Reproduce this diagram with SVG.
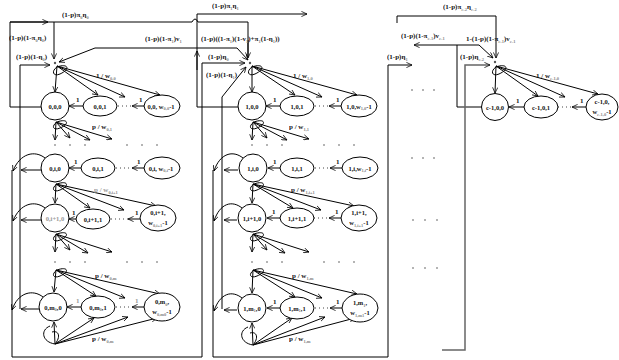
<svg xmlns="http://www.w3.org/2000/svg" width="619" height="360" viewBox="0 0 619 360">
<defs>
<marker id="a" viewBox="0 0 8 8" refX="7.5" refY="4" markerWidth="6" markerHeight="6" orient="auto" markerUnits="userSpaceOnUse"><path d="M0,0.5 L7.5,4 L0,7.5" fill="none" stroke="#000" stroke-width="1"/></marker>
<style>
text{opacity:0.99}
.t{font-family:"Liberation Serif",serif;font-size:7px;font-weight:bold;fill:#111}
.n{font-family:"Liberation Serif",serif;font-size:6.5px;font-weight:bold;fill:#111;text-anchor:middle}
.g{fill:#999}
.s{font-size:4.5px;fill:#888}
.c{fill:#fff;stroke:#000;stroke-width:1}
.l{fill:none;stroke:#000;stroke-width:1}
.m{fill:none;stroke:#000;stroke-width:1;marker-end:url(#a)}
.d{fill:none;stroke:#444;stroke-width:1;stroke-dasharray:1 3}
.dot{fill:#555}
</style>
</defs>
<rect width="619" height="360" fill="#fff"/>

<g id="connectors">
<path class="l" d="M41,107 L10,107 L10,22 L192,22 Q195,16 198,22 L248,22 L248,57"/>
<path class="m" d="M248,40 L248,58"/>
<path class="m" d="M10,22 L48,22"/>
<path class="m" d="M54,22 L54,59"/>
<path class="m" d="M20,309 L20,65 L50,65"/>
<path class="m" d="M12,170 L12,357 L202,357 L202,63 L245,63"/>
<path class="m" d="M238,107 L197,107 L197,14 L307,14"/>
<path class="m" d="M197,70 L197,51"/>
<path class="m" d="M197,48 L95,48 L59,62"/>
<path class="m" d="M197,48 L237,48 L248,60"/>
<path class="m" d="M222,309 L222,97 L246,67"/>
<path class="m" d="M213,170 L213,357 L388,357 L388,65 L412,65"/>
<path class="m" d="M397,23 L397,16 L496,16 L496,58"/>
<path class="m" d="M482,107 L457,107 L457,45 L414,45"/>
<path class="m" d="M457,45 L479,45 L493,58"/>
<path d="M442,350 L465,350 L465,65 L490,65" fill="none" stroke="#666" stroke-width="1.5" marker-end="url(#a)"/>

<g id="fans0">
<path class="m" d="M57,66 L55,92"/><path class="m" d="M57,66 L98,95"/><path class="m" d="M57,66 L125,97"/><path class="m" d="M57,66 L160,95"/>
<path class="l" d="M57,67 C68,63 71,69 60,74 C53,77 51,71 57,67"/>
<path class="m" d="M56,122 L55,140"/><path class="m" d="M56,122 L70,138"/><path class="m" d="M56,122 L90,140"/><path class="m" d="M56,122 L112,139"/>
<path class="l" d="M57,122 C68,118 70,124 60,128 C53,131 51,126 57,122"/>
<path class="m" d="M56,184 L55,203"/><path class="m" d="M56,184 L90,208"/><path class="m" d="M56,184 L124,210"/><path class="m" d="M56,184 L156,206"/>
<path class="l" d="M57,184 C68,180 70,186 60,190 C53,193 51,188 57,184"/>
<path class="m" d="M56,234 L55,252"/><path class="m" d="M56,234 L70,250"/><path class="m" d="M56,234 L88,253"/><path class="m" d="M56,234 L112,252"/>
<path class="l" d="M57,234 C68,230 70,236 60,240 C53,243 51,238 57,234"/>
<path class="m" d="M56,270 L54,292"/><path class="m" d="M56,270 L96,296"/><path class="m" d="M56,270 L125,298"/><path class="m" d="M56,270 L160,294"/>
<path class="l" d="M57,270 C68,266 70,272 60,276 C53,279 51,274 57,270"/>
<path class="m" d="M55,344 L54,322"/><path class="m" d="M55,344 L94,318"/><path class="m" d="M55,344 L128,317"/><path class="m" d="M55,344 L157,318"/>
<path class="l" d="M55,344 C42,342 40,330 50,326 M55,344 C61,337 59,330 52,332"/>
<path class="m" d="M83,106 L69,106"/><path class="d" d="M118,106 L132,106"/><path class="m" d="M144,106 L132,106"/>
<path class="m" d="M81,168 L69,168"/><path class="d" d="M116,168 L132,168"/><path class="m" d="M144,168 L132,168"/>
<path class="m" d="M76,219 L69,219"/><path class="d" d="M111,219 L128,219"/><path class="m" d="M140,219 L128,219"/>
<path class="m" d="M81,307 L67,307"/><path class="d" d="M116,307 L132,307"/><path class="m" d="M144,307 L132,307"/>
<path class="m" d="M41,170 L21,170"/><path class="m" d="M45,158 C35,150 20,153 13,171"/>
<path class="m" d="M41,220 L21,220"/><path class="m" d="M45,208 C35,200 20,203 13,221"/>
<path class="m" d="M39,309 L21,309"/><path class="m" d="M43,297 C33,289 18,292 12,310"/>
</g>

<g id="fans1">
<path class="m" d="M252,66 L252,92"/><path class="m" d="M252,66 L295,95"/><path class="m" d="M252,66 L322,97"/><path class="m" d="M252,66 L357,95"/>
<path class="l" d="M252,67 C263,63 266,69 255,74 C248,77 246,71 252,67"/>
<path class="m" d="M253,122 L252,140"/><path class="m" d="M253,122 L267,138"/><path class="m" d="M253,122 L287,140"/><path class="m" d="M253,122 L309,139"/>
<path class="l" d="M254,122 C265,118 267,124 257,128 C250,131 248,126 254,122"/>
<path class="m" d="M253,184 L252,203"/><path class="m" d="M253,184 L293,208"/><path class="m" d="M253,184 L321,210"/><path class="m" d="M253,184 L354,206"/>
<path class="l" d="M254,184 C265,180 267,186 257,190 C250,193 248,188 254,184"/>
<path class="m" d="M253,234 L252,252"/><path class="m" d="M253,234 L267,250"/><path class="m" d="M253,234 L285,253"/><path class="m" d="M253,234 L309,252"/>
<path class="l" d="M254,234 C265,230 267,236 257,240 C250,243 248,238 254,234"/>
<path class="m" d="M253,270 L252,293"/><path class="m" d="M253,270 L295,297"/><path class="m" d="M253,270 L322,298"/><path class="m" d="M253,270 L357,294"/>
<path class="l" d="M254,270 C265,266 267,272 257,276 C250,279 248,274 254,270"/>
<path class="m" d="M253,345 L252,323"/><path class="m" d="M253,345 L292,318"/><path class="m" d="M253,345 L325,317"/><path class="m" d="M253,345 L355,318"/>
<path class="l" d="M253,345 C240,343 238,331 248,327 M253,345 C259,338 257,331 250,333"/>
<path class="m" d="M280,106 L266,106"/><path class="d" d="M315,106 L329,106"/><path class="m" d="M341,106 L329,106"/>
<path class="m" d="M280,168 L268,168"/><path class="d" d="M315,168 L330,168"/><path class="m" d="M342,168 L330,168"/>
<path class="m" d="M280,218 L267,218"/><path class="d" d="M314,218 L329,218"/><path class="m" d="M341,218 L329,218"/>
<path class="m" d="M280,308 L267,308"/><path class="d" d="M315,308 L330,308"/><path class="m" d="M342,308 L330,308"/>
<path class="m" d="M238,170 L224,170"/><path class="m" d="M243,158 C233,150 220,153 214,171"/>
<path class="m" d="M237,220 L224,220"/><path class="m" d="M242,208 C232,200 220,203 214,221"/>
<path class="m" d="M237,310 L224,310"/><path class="m" d="M242,298 C232,290 220,293 214,311"/>
</g>

<g id="fansc">
<path class="m" d="M496,66 L495,93"/><path class="m" d="M496,66 L538,96"/><path class="m" d="M496,66 L565,97"/><path class="m" d="M496,66 L598,94"/>
<path class="l" d="M496,67 C507,63 510,69 499,74 C492,77 490,71 496,67"/>
<path class="m" d="M524,107 L509,107"/><path class="d" d="M558,107 L572,107"/><path class="m" d="M586,107 L572,107"/>
</g>
</g>

<circle class="dot" cx="55" cy="63" r="1.2"/>
<circle class="dot" cx="250" cy="63" r="1.2"/>
<circle class="dot" cx="495" cy="62" r="1.2"/>

<g class="dot">
<circle cx="55" cy="145" r="0.8"/><circle cx="70" cy="145" r="0.8"/><circle cx="85" cy="145" r="0.8"/><circle cx="127" cy="145" r="0.8"/><circle cx="142" cy="145" r="0.8"/><circle cx="157" cy="145" r="0.8"/>
<circle cx="55" cy="262" r="0.8"/><circle cx="70" cy="262" r="0.8"/><circle cx="85" cy="262" r="0.8"/><circle cx="127" cy="262" r="0.8"/><circle cx="142" cy="262" r="0.8"/><circle cx="157" cy="262" r="0.8"/>
<circle cx="252" cy="145" r="0.8"/><circle cx="267" cy="145" r="0.8"/><circle cx="282" cy="145" r="0.8"/><circle cx="324" cy="145" r="0.8"/><circle cx="339" cy="145" r="0.8"/><circle cx="354" cy="145" r="0.8"/>
<circle cx="252" cy="262" r="0.8"/><circle cx="267" cy="262" r="0.8"/><circle cx="282" cy="262" r="0.8"/><circle cx="324" cy="262" r="0.8"/><circle cx="339" cy="262" r="0.8"/><circle cx="354" cy="262" r="0.8"/>
<circle cx="412" cy="90" r="0.8"/><circle cx="423" cy="90" r="0.8"/><circle cx="434" cy="90" r="0.8"/>
<circle cx="412" cy="158" r="0.8"/><circle cx="423" cy="158" r="0.8"/><circle cx="434" cy="158" r="0.8"/>
<circle cx="413" cy="220" r="0.8"/><circle cx="425" cy="220" r="0.8"/><circle cx="437" cy="220" r="0.8"/>
<circle cx="413" cy="268" r="0.8"/><circle cx="425" cy="268" r="0.8"/><circle cx="437" cy="268" r="0.8"/>
</g>

<g id="labels">
<text class="t" x="62" y="17">(1-p)π<tspan class="s" dy="1.5">0</tspan><tspan dy="-1.5">η</tspan><tspan class="s" dy="1.5">0</tspan></text>
<text class="t" x="9" y="40">(1-p)(1-π<tspan class="s" dy="1.5">0</tspan><tspan dy="-1.5">η</tspan><tspan class="s" dy="1.5">0</tspan><tspan dy="-1.5">)</tspan></text>
<text class="t" x="16" y="59">(1-p)(1-η<tspan class="s" dy="1.5">0</tspan><tspan dy="-1.5">)</tspan></text>
<text class="t" x="145" y="41">(1-p)(1-π<tspan class="s" dy="1.5">1</tspan><tspan dy="-1.5">)v</tspan><tspan class="s" dy="1.5">1</tspan></text>
<text class="t" x="212" y="8">(1-p)π<tspan class="s" dy="1.5">1</tspan><tspan dy="-1.5">η</tspan><tspan class="s" dy="1.5">1</tspan></text>
<text class="t" x="201" y="41">(1-p)((1-π<tspan class="s" dy="1.5">1</tspan><tspan dy="-1.5">)(1-v</tspan><tspan class="s" dy="1.5">1</tspan><tspan dy="-1.5">)+π</tspan><tspan class="s" dy="1.5">1</tspan><tspan dy="-1.5">(1-η</tspan><tspan class="s" dy="1.5">1</tspan><tspan dy="-1.5">))</tspan></text>
<text class="t" x="208" y="59">(1-p)η<tspan class="s" dy="1.5">0</tspan></text>
<text class="t" x="206" y="77">(1-p)(1-η<tspan class="s" dy="1.5">1</tspan><tspan dy="-1.5">)</tspan></text>
<text class="t" x="443" y="9">(1-p)π<tspan class="s" dy="1.5">c-2</tspan><tspan dy="-1.5">η</tspan><tspan class="s" dy="1.5">c-2</tspan></text>
<text class="t" x="401" y="38">(1-p)(1-π<tspan class="s" dy="1.5">c-1</tspan><tspan dy="-1.5">)v</tspan><tspan class="s" dy="1.5">c-1</tspan></text>
<text class="t" x="466" y="41">1-(1-p)(1-π<tspan class="s" dy="1.5">c-1</tspan><tspan dy="-1.5">)v</tspan><tspan class="s" dy="1.5">c-1</tspan></text>
<text class="t" x="387" y="59">(1-p)η<tspan class="s" dy="1.5">1</tspan></text>
<text class="t" x="460" y="59">(1-p)η<tspan class="s" dy="1.5">c-2</tspan></text>

<text class="t" x="96" y="78">1 / w<tspan class="s" dy="1.5">0,0</tspan></text>
<text class="t" x="92" y="129">p / w<tspan class="s" dy="1.5">0,1</tspan></text>
<text class="t g" x="94" y="192">p / w<tspan class="s" dy="1.5">0,i+1</tspan></text>
<text class="t" x="95" y="278">p / w<tspan class="s" dy="1.5">0,m</tspan></text>
<text class="t" x="92" y="341">p / w<tspan class="s" dy="1.5">0,m</tspan></text>
<text class="t" x="293" y="78">1 / w<tspan class="s" dy="1.5">1,0</tspan></text>
<text class="t" x="289" y="129">p / w<tspan class="s" dy="1.5">1,1</tspan></text>
<text class="t" x="291" y="192">p / w<tspan class="s" dy="1.5">1,i+1</tspan></text>
<text class="t" x="292" y="278">p / w<tspan class="s" dy="1.5">1,m</tspan></text>
<text class="t" x="289" y="341">p / w<tspan class="s" dy="1.5">1,m</tspan></text>
<text class="t" x="536" y="78">1 / w<tspan class="s" dy="1.5">c-1,0</tspan></text>

<text class="t" x="76" y="102">1</text><text class="t" x="139" y="102">1</text>
<text class="t" x="74" y="164">1</text><text class="t" x="137" y="164">1</text>
<text class="t" x="72" y="215">1</text><text class="t" x="135" y="215">1</text>
<text class="t g" x="76" y="303">1</text><text class="t g" x="135" y="303">1</text>
<text class="t" x="273" y="102">1</text><text class="t" x="336" y="102">1</text>
<text class="t" x="273" y="164">1</text><text class="t" x="336" y="164">1</text>
<text class="t" x="272" y="214">1</text><text class="t" x="335" y="214">1</text>
<text class="t" x="273" y="304">1</text><text class="t" x="336" y="304">1</text>
<text class="t" x="516" y="103">1</text><text class="t" x="580" y="103">1</text>
</g>

<g id="n000"><circle class="c" cx="55" cy="106" r="14"/><text class="n" x="55" y="108.5">0,0,0</text></g>
<g id="n001"><ellipse class="c" cx="100" cy="106" rx="17" ry="10"/><text class="n" x="100" y="108.5">0,0,1</text></g>
<g id="n00w"><ellipse class="c" cx="162" cy="106" rx="18" ry="11"/><text class="n" x="161" y="108.5">0,0, w<tspan class="s" dy="1.5">0,0</tspan><tspan dy="-1.5">-1</tspan></text></g>
<g id="n0i0"><circle class="c" cx="55" cy="168" r="14"/><text class="n" x="55" y="170.5">0,i,0</text></g>
<g id="n0i1"><ellipse class="c" cx="98" cy="168" rx="17" ry="10"/><text class="n" x="98" y="170.5">0,i,1</text></g>
<g id="n0iw"><ellipse class="c" cx="162" cy="168" rx="18" ry="11"/><text class="n" x="161" y="170.5">0,i, w<tspan class="s" dy="1.5">0,i</tspan><tspan dy="-1.5">-1</tspan></text></g>
<g id="n0j0"><circle class="c" cx="55" cy="218" r="14"/><text class="n g" x="55" y="220.5">0,i+1,0</text></g>
<g id="n0j1"><ellipse class="c" cx="93" cy="219" rx="17" ry="10"/><text class="n" x="93" y="221.5">0,i+1,1</text></g>
<g id="n0jw"><ellipse class="c" cx="158" cy="218" rx="18" ry="13"/><text class="n" x="158" y="215">0,i+1,</text><text class="n" x="158" y="225">w<tspan class="s" dy="1.5">0,i+1</tspan><tspan dy="-1.5">-1</tspan></text></g>
<g id="n0m0"><circle class="c" cx="53" cy="307" r="14"/><text class="n" x="53" y="309.5">0,m<tspan class="s" dy="1.5">0</tspan><tspan dy="-1.5">,0</tspan></text></g>
<g id="n0m1"><ellipse class="c" cx="98" cy="307" rx="17" ry="11"/><text class="n" x="98" y="309.5">0,m<tspan class="s" dy="1.5">0</tspan><tspan dy="-1.5">,1</tspan></text></g>
<g id="n0mw"><ellipse class="c" cx="162" cy="307" rx="18" ry="14"/><text class="n" x="162" y="304">0,m<tspan class="s" dy="1.5">0</tspan><tspan dy="-1.5">,</tspan></text><text class="n" x="162" y="314">w<tspan class="s" dy="1.5">0,m0</tspan><tspan dy="-1.5">-1</tspan></text></g>

<g id="n100"><circle class="c" cx="252" cy="106" r="14"/><text class="n" x="252" y="108.5">1,0,0</text></g>
<g id="n101"><ellipse class="c" cx="297" cy="106" rx="17" ry="10"/><text class="n" x="297" y="108.5">1,0,1</text></g>
<g id="n10w"><ellipse class="c" cx="359" cy="106" rx="18" ry="11"/><text class="n" x="359" y="108.5">1,0,w<tspan class="s" dy="1.5">1,0</tspan><tspan dy="-1.5">-1</tspan></text></g>
<g id="n1i0"><circle class="c" cx="253" cy="168" r="14"/><text class="n" x="253" y="170.5">1,i,0</text></g>
<g id="n1i1"><ellipse class="c" cx="297" cy="168" rx="17" ry="10"/><text class="n" x="297" y="170.5">1,i,1</text></g>
<g id="n1iw"><ellipse class="c" cx="360" cy="168" rx="18" ry="11"/><text class="n" x="360" y="170.5">1,i,w<tspan class="s" dy="1.5">1,i</tspan><tspan dy="-1.5">-1</tspan></text></g>
<g id="n1j0"><circle class="c" cx="252" cy="218" r="14"/><text class="n" x="252" y="220.5">1,i+1,0</text></g>
<g id="n1j1"><ellipse class="c" cx="297" cy="218" rx="17" ry="10"/><text class="n" x="297" y="220.5">1,i+1,1</text></g>
<g id="n1jw"><ellipse class="c" cx="359" cy="218" rx="18" ry="13"/><text class="n" x="359" y="215">1,i+1,</text><text class="n" x="359" y="225">w<tspan class="s" dy="1.5">1,i+1</tspan><tspan dy="-1.5">-1</tspan></text></g>
<g id="n1m0"><circle class="c" cx="252" cy="308" r="14"/><text class="n" x="252" y="310.5">1,m<tspan class="s" dy="1.5">1</tspan><tspan dy="-1.5">,0</tspan></text></g>
<g id="n1m1"><ellipse class="c" cx="297" cy="308" rx="17" ry="11"/><text class="n" x="297" y="310.5">1,m<tspan class="s" dy="1.5">1</tspan><tspan dy="-1.5">,1</tspan></text></g>
<g id="n1mw"><ellipse class="c" cx="360" cy="308" rx="18" ry="14"/><text class="n" x="360" y="305">1,m<tspan class="s" dy="1.5">1</tspan><tspan dy="-1.5">,</tspan></text><text class="n" x="360" y="315">w<tspan class="s" dy="1.5">1,m1</tspan><tspan dy="-1.5">-1</tspan></text></g>

<g id="nc00"><circle class="c" cx="495" cy="107" r="13.5"/><text class="n" x="495" y="109.5">c-1,0,0</text></g>
<g id="nc01"><ellipse class="c" cx="541" cy="107" rx="17" ry="11"/><text class="n" x="541" y="109.5">c-1,0,1</text></g>
<g id="nc0w"><ellipse class="c" cx="602" cy="107" rx="16" ry="13"/><text class="n" x="602" y="104">c-1,0,</text><text class="n" x="602" y="114">w<tspan class="s" dy="1.5">c-1,0</tspan><tspan dy="-1.5">-1</tspan></text></g>
</svg>
